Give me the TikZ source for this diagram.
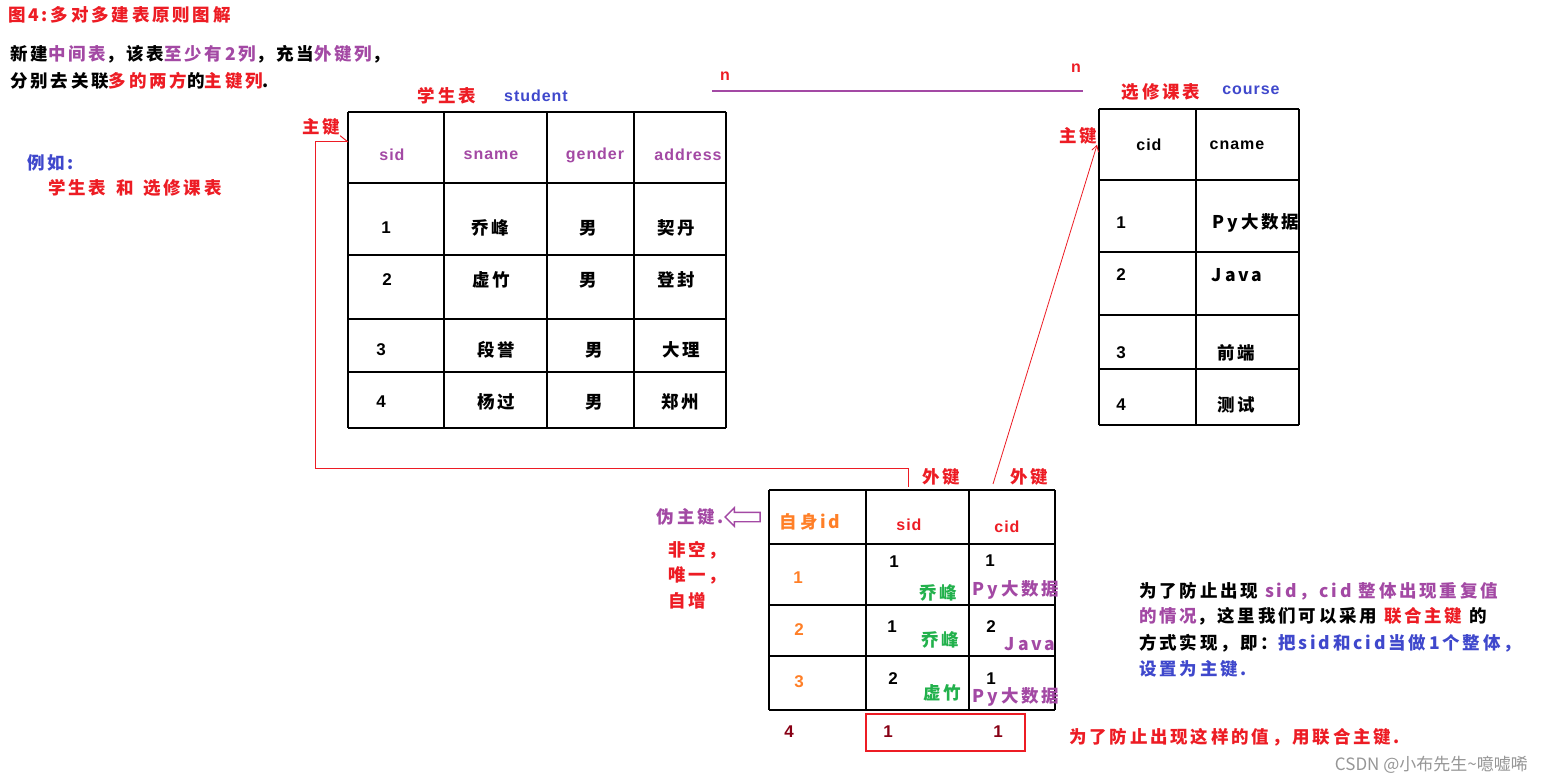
\documentclass[tikz,border=0pt]{standalone}
\usepackage{fontspec}
\setmainfont{Liberation Sans}
\newfontfamily\cjk[LetterSpace=16]{Noto Sans CJK SC}
\newfontfamily\cjkplain{Noto Sans CJK SC}
\newfontfamily\latin[LetterSpace=6]{Liberation Sans}
\usetikzlibrary{arrows.meta, calc, positioning, shapes.arrows}
\definecolor{paintred}{RGB}{237,28,36}
\definecolor{paintpurple}{RGB}{163,73,164}
\definecolor{paintblue}{RGB}{63,72,204}
\definecolor{paintgreen}{RGB}{34,177,76}
\definecolor{paintorange}{RGB}{255,127,39}
\definecolor{paintdark}{RGB}{136,0,21}
\definecolor{wmgray}{RGB}{150,150,150}

\begin{document}
\begin{tikzpicture}[x=1pt, y=-1pt, >=Stealth,
    zh/.style={font=\cjk\bfseries\fontsize{17.5}{20}\selectfont, inner sep=0pt},
    en/.style={font=\latin\bfseries\fontsize{16}{19}\selectfont, inner sep=0pt},
    num/.style={font=\bfseries\fontsize{17}{19}\selectfont, inner sep=0pt},
    grid/.style={line width=1.2pt},
    keyline/.style={draw=paintred, line width=1pt}]
    \fill[white] (0,0) rectangle (1543,783);
    \useasboundingbox (0,0) rectangle (1543,783);

    % Heading and rule
    \node[zh, text=paintred, anchor=west] (title) at (8,15) {图4:多对多建表原则图解};
    \node[zh, anchor=west] (rule1) at (10,54) {新建\textcolor{paintpurple}{中间表}，该表\textcolor{paintpurple}{至少有2列}，充当\textcolor{paintpurple}{外键列}，};
    \node[zh, anchor=west] (rule2) at (10,81) {分别去关联\textcolor{paintred}{多的两方}的\textcolor{paintred}{主键列}.};
    \node[zh, text=paintblue, anchor=west] (eg) at (27,163) {例如:};
    \node[zh, text=paintred, anchor=west] (egTables) at (48,188) {学生表 \,和\, 选修课表};

    % Student table
    \foreach \x in {348,444,547,634,726} \draw[grid] (\x,112) -- (\x,428);
    \foreach \y in {112,183,255,319,372,428} \draw[grid] (348,\y) -- (726,\y);
    \node[zh, text=paintred] (stuTitle) at (447,96) {学生表};
    \node[en, text=paintblue] (stuName) at (536,96) {student};
    \node[en, text=paintpurple] (stuSid) at (392,155) {sid};
    \node[en, text=paintpurple] (stuSname) at (491,155) {sname};
    \node[en, text=paintpurple] (stuGender) at (595,155) {gender};
    \node[en, text=paintpurple] (stuAddress) at (688,155) {address};
    \node[num] (s1id) at (386,228) {1};
    \node[zh] (s1name) at (490,228) {乔峰};
    \node[zh] (s1sex) at (588,228) {男};
    \node[zh] (s1addr) at (676,228) {契丹};
    \node[num] (s2id) at (387,280) {2};
    \node[zh] (s2name) at (491,280) {虚竹};
    \node[zh] (s2sex) at (588,280) {男};
    \node[zh] (s2addr) at (676,280) {登封};
    \node[num] (s3id) at (381,350) {3};
    \node[zh] (s3name) at (496,350) {段誉};
    \node[zh] (s3sex) at (594,350) {男};
    \node[zh] (s3addr) at (681,350) {大理};
    \node[num] (s4id) at (381,402) {4};
    \node[zh] (s4name) at (496,402) {杨过};
    \node[zh] (s4sex) at (594,402) {男};
    \node[zh] (s4addr) at (680,402) {郑州};
    \node[zh, text=paintred] (pkStu) at (321,127) {主键};
    \coordinate (stuKey) at (348,142);

    % n : n relation
    \coordinate (relLeft) at (712,91);
    \coordinate (relRight) at (1083,91);
    \draw[paintpurple, line width=1.2pt] (relLeft) -- (relRight);
    \node[en, text=paintred] (nLeft) at (725,76) {n};
    \node[en, text=paintred] (nRight) at (1076,68) {n};

    % Course table
    \foreach \x in {1099,1196,1299} \draw[grid] (\x,109) -- (\x,425);
    \foreach \y in {109,180,252,315,369,425} \draw[grid] (1099,\y) -- (1299,\y);
    \node[zh, text=paintred] (courseTitle) at (1161,92) {选修课表};
    \node[en, text=paintblue] (courseName) at (1251,90) {course};
    \node[en] (courseCid) at (1149,145) {cid};
    \node[en] (courseCname) at (1237,145) {cname};
    \node[num] (c1id) at (1121,223) {1};
    \node[zh] (c1name) at (1256,223) {Py大数据};
    \node[num] (c2id) at (1121,275) {2};
    \node[zh] (c2name) at (1237,275) {Java};
    \node[num] (c3id) at (1121,353) {3};
    \node[zh] (c3name) at (1236,353) {前端};
    \node[num] (c4id) at (1121,405) {4};
    \node[zh] (c4name) at (1236,405) {测试};
    \node[zh, text=paintred] (pkCourse) at (1078,136) {主键};

    % Middle table
    \foreach \x in {769,866,969,1055} \draw[grid] (\x,490) -- (\x,710);
    \foreach \y in {490,544,605,656,710} \draw[grid] (769,\y) -- (1055,\y);
    \node[zh, text=paintorange] (midId) at (810,522) {自身id};
    \node[en, text=paintred] (midSid) at (909,525) {sid};
    \node[en, text=paintred] (midCid) at (1007,527) {cid};
    \node[zh, text=paintred] (fkSid) at (941,477) {外键};
    \node[zh, text=paintred] (fkCid) at (1029,477) {外键};
    \node[num, text=paintorange] (m1id) at (798,578) {1};
    \node[num] (m1sid) at (894,562) {1};
    \node[zh, text=paintgreen] (m1sname) at (938,593) {乔峰};
    \node[num] (m1cid) at (990,561) {1};
    \node[zh, text=paintpurple] (m1cname) at (1016,590) {Py大数据};
    \node[num, text=paintorange] (m2id) at (799,630) {2};
    \node[num] (m2sid) at (892,627) {1};
    \node[zh, text=paintgreen] (m2sname) at (940,640) {乔峰};
    \node[num] (m2cid) at (991,627) {2};
    \node[zh, text=paintpurple] (m2cname) at (1030,644) {Java};
    \node[num, text=paintorange] (m3id) at (799,682) {3};
    \node[num] (m3sid) at (893,679) {2};
    \node[zh, text=paintgreen] (m3sname) at (942,693) {虚竹};
    \node[num] (m3cid) at (991,679) {1};
    \node[zh, text=paintpurple] (m3cname) at (1016,697) {Py大数据};
    \coordinate (sidFk) at (908,487);
    \coordinate (cidFk) at (993,484);

    % Pseudo key
    \node[single arrow, draw=paintpurple, line width=1.4pt, fill=white,
        shape border rotate=180, minimum height=35pt, inner xsep=0pt,
        inner ysep=4pt, single arrow head extend=4.5pt] (fakeArrow) at (745,517) {};
    \node[zh, text=paintpurple, anchor=east] (fakeKey) at (fakeArrow.tip) {伪主键.};
    \node[zh, text=paintred, anchor=west] (notNull) at (668,550) {非空，};
    \node[zh, text=paintred, anchor=west] (unique) at (668,575) {唯一，};
    \node[zh, text=paintred, anchor=west] (autoInc) at (668,601) {自增};

    % Duplicate row
    \node[num, text=paintdark] (r4id) at (789,732) {4};
    \node[num, text=paintdark] (r4sid) at (888,732) {1};
    \node[num, text=paintdark] (r4cid) at (998,732) {1};
    \draw[paintred, line width=2.5pt] (866,714) rectangle (1025,751);

    % Key connectors
    \draw[keyline] (pkStu.south east) -- (stuKey);
    \draw[keyline] (stuKey) -- ++(-33,0) |- (908,469) -- (sidFk);
    \draw[keyline, line width=0.8pt, -{Straight Barb[length=6pt, width=7pt]}] (cidFk) -- (pkCourse.south east);

    % Notes
    \node[zh, anchor=west] (note1) at (1139,591) {为了防止出现 \textcolor{paintpurple}{sid，cid 整体出现重复值}};
    \node[zh, anchor=west] (note2) at (1139,616) {\textcolor{paintpurple}{的情况}，这里我们可以采用 \textcolor{paintred}{联合主键} 的};
    \node[zh, anchor=west] (note3) at (1139,643) {方式实现，即：\textcolor{paintblue}{把sid和cid当做1个整体，}};
    \node[zh, text=paintblue, anchor=west] (note4) at (1139,669) {设置为主键.};
    \node[zh, text=paintred, anchor=west] (noteDup) at (1069,737) {为了防止出现这样的值，用联合主键.};

    % Watermark
    \node[font=\cjkplain\fontsize{17}{19}\selectfont, text=wmgray, anchor=east, inner sep=0pt] (mark) at (1528,765) {CSDN @小布先生\textasciitilde 噫嘘唏};
\end{tikzpicture}
\end{document}
